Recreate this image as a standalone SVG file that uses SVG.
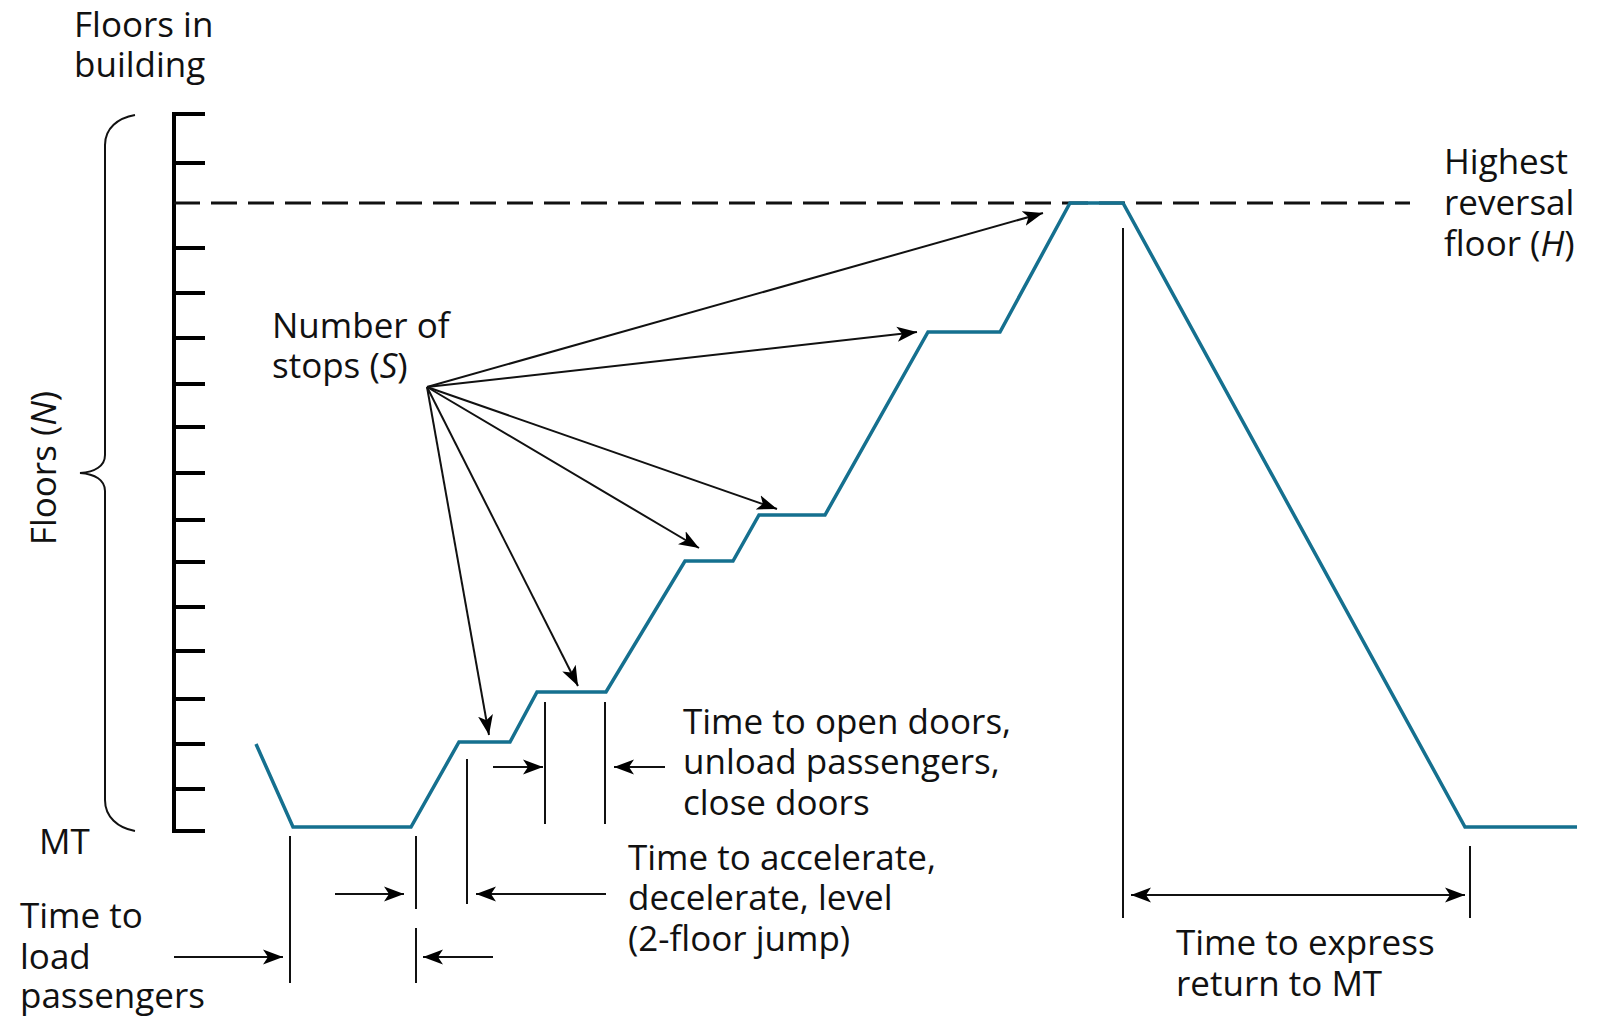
<svg xmlns="http://www.w3.org/2000/svg" width="1604" height="1020" viewBox="0 0 1604 1020">
<defs>
<style>
text{font-family:"Open Sans","Noto Sans","Liberation Sans",sans-serif;font-size:35px;fill:#111}
.it{font-style:italic}
.ln{stroke:#111;stroke-width:2;fill:none}
.ax{stroke:#000;stroke-width:4;fill:none}
.teal{stroke:#15708f;stroke-width:3.5;fill:none;stroke-linejoin:miter}
.dash{stroke:#111;stroke-width:3;stroke-dasharray:26 11;fill:none}
</style>
<marker id="ah" viewBox="-20 -8 21 16" refX="0" refY="0" markerWidth="21" markerHeight="16" markerUnits="userSpaceOnUse" orient="auto-start-reverse">
<path d="M0,0 L-20,-7.5 L-15,0 L-20,7.5 Z" fill="#000"/>
</marker>
</defs>
<rect width="1604" height="1020" fill="#fff"/>

<g id="axis">
<path class="ax" d="M174,112 V833"/>
<path class="ax" d="M172,114 H205 M174,163 H205 M174,248 H205 M174,293 H205 M174,338 H205 M174,384 H205 M174,427 H205 M174,473 H205 M174,520 H205 M174,562 H205 M174,607 H205 M174,651 H205 M174,699 H205 M174,744 H205 M174,789 H205 M172,831 H205"/>
</g>

<g id="brace">
<path class="ln" d="M135,115 C118,118 105,128 105,145 L105,455 C105,466 95,472 80,473 C95,474 105,480 105,491 L105,800 C105,817 118,828 135,831"/>
</g>

<g id="labels-left">
<text x="74" y="37">Floors in</text>
<text x="74" y="77">building</text>
<text transform="translate(56,468) rotate(-90)" text-anchor="middle">Floors (<tspan class="it">N</tspan>)</text>
<text x="39" y="854">MT</text>
</g>

<g id="highest-line">
<path class="dash" d="M174,203 H1410"/>
</g>

<g id="trip">
<path class="teal" d="M256,744 L293,827 L411,827 L459,742 L510,742 L537,692 L606,692 L685,561 L733,561 L759,515 L825,515 L928,332 L1000,332 L1070,203 L1123,203 L1465,827 L1577,827"/>
</g>

<g id="stops-label">
<text x="272" y="338">Number of</text>
<text x="272" y="378">stops (<tspan class="it">S</tspan>)</text>
</g>

<g id="highest-label">
<text x="1444" y="174">Highest</text>
<text x="1444" y="215">reversal</text>
<text x="1444" y="256">floor (<tspan class="it">H</tspan>)</text>
</g>

<g id="connectors">
<line class="ln" x1="427" y1="387" x2="1043" y2="213" marker-end="url(#ah)"/>
<line class="ln" x1="427" y1="387" x2="917" y2="332" marker-end="url(#ah)"/>
<line class="ln" x1="427" y1="387" x2="777" y2="509" marker-end="url(#ah)"/>
<line class="ln" x1="427" y1="387" x2="699" y2="548" marker-end="url(#ah)"/>
<line class="ln" x1="427" y1="387" x2="578" y2="686" marker-end="url(#ah)"/>
<line class="ln" x1="427" y1="387" x2="489" y2="735" marker-end="url(#ah)"/>

<path class="ln" d="M290,836 V983 M416,836 V909 M416,928 V983 M467,759 V904 M545,702 V824 M605,702 V824 M1123,228 V918 M1470,846 V918"/>

<line class="ln" x1="174" y1="957" x2="283" y2="957" marker-end="url(#ah)"/>
<line class="ln" x1="335" y1="894" x2="404" y2="894" marker-end="url(#ah)"/>
<line class="ln" x1="606" y1="894" x2="476" y2="894" marker-end="url(#ah)"/>
<line class="ln" x1="493" y1="957" x2="423" y2="957" marker-end="url(#ah)"/>
<line class="ln" x1="493" y1="767" x2="543" y2="767" marker-end="url(#ah)"/>
<line class="ln" x1="665" y1="767" x2="614" y2="767" marker-end="url(#ah)"/>
<line class="ln" x1="1131" y1="895" x2="1465" y2="895" marker-start="url(#ah)" marker-end="url(#ah)"/>
</g>

<g id="doors-label">
<text x="683" y="734">Time to open doors,</text>
<text x="683" y="774">unload passengers,</text>
<text x="683" y="815">close doors</text>
</g>

<g id="accel-label">
<text x="628" y="870">Time to accelerate,</text>
<text x="628" y="910">decelerate, level</text>
<text x="628" y="951">(2-floor jump)</text>
</g>

<g id="load-label">
<text x="20" y="928">Time to</text>
<text x="20" y="969">load</text>
<text x="20" y="1008">passengers</text>
</g>

<g id="express-label">
<text x="1176" y="955">Time to express</text>
<text x="1176" y="996">return to MT</text>
</g>
</svg>
